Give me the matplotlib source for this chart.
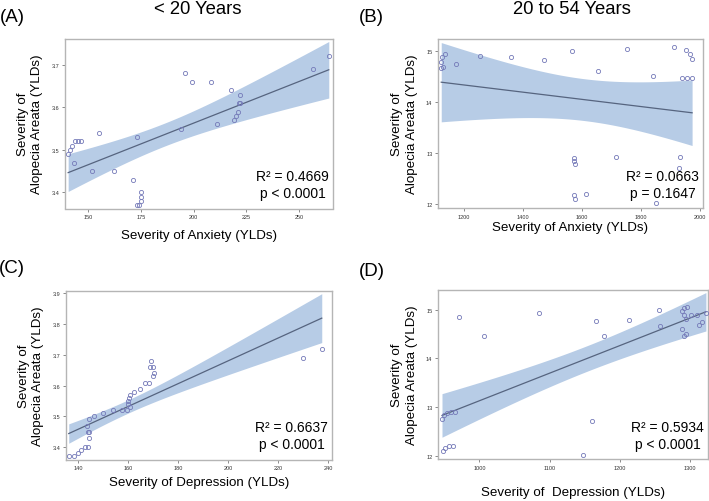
import numpy as np
import matplotlib
matplotlib.use('Agg')
import matplotlib.pyplot as plt

plt.rcParams['font.family'] = ['Liberation Sans', 'DejaVu Sans']

################################################################################
# data
a_x = [140.5, 141.3, 142.4, 143.7, 145.0, 146.5, 143.5, 152.0, 155.0, 162.0,
       171.0, 173.0, 173.0, 174.0, 175.0, 175.0, 175.0, 194.0, 196.0, 199.0,
       208.0, 211.0, 217.5, 219.0, 220.0, 221.0, 221.5, 222.0, 222.0, 256.6, 264.0]
a_y = [3.49, 3.50, 3.51, 3.52, 3.52, 3.52, 3.47, 3.45, 3.54, 3.45,
       3.43, 3.53, 3.37, 3.37, 3.38, 3.39, 3.40, 3.55, 3.68, 3.66,
       3.66, 3.56, 3.64, 3.57, 3.58, 3.59, 3.61, 3.61, 3.63, 3.69, 3.72]

b_x = [1123, 1127, 1137, 1123, 1130, 1173, 1254, 1361, 1473,
       1567, 1752, 1656, 1843, 1911, 1952, 1966, 1974, 1940, 1956, 1972,
       1572, 1573, 1578, 1715, 1932, 1930, 1572, 1577, 1614, 1850]
b_y = [14.79, 14.88, 14.94, 14.66, 14.68, 14.75, 14.90, 14.88, 14.82,
       14.99, 15.03, 14.61, 14.51, 15.07, 15.02, 14.94, 14.84, 14.47, 14.47, 14.47,
       12.91, 12.85, 12.78, 12.92, 12.92, 12.72, 12.18, 12.10, 12.21, 12.03]

c_x = [136.3, 138.3, 139.9, 141.3, 142.9, 144.0, 144.4, 143.9, 144.4, 143.6,
       144.4, 146.5, 150.0, 154.0, 157.7, 159.5, 160.0, 160.0, 160.2, 160.6,
       160.7, 162.5, 164.6, 166.7, 168.5, 169.1, 168.9, 169.9, 170.2, 169.9,
       229.8, 237.5]
c_y = [3.371, 3.37, 3.38, 3.39, 3.40, 3.40, 3.43, 3.45, 3.45, 3.47,
       3.49, 3.50, 3.51, 3.52, 3.52, 3.52, 3.54, 3.55, 3.56, 3.53,
       3.57, 3.58, 3.59, 3.61, 3.61, 3.68, 3.66, 3.66, 3.64, 3.63,
       3.69, 3.72]

d_x = [946.7, 949.0, 953.8, 959.5, 965.7, 947.6, 951.4, 956.2, 961.9, 970.5,
       1007.0, 1085.7, 1165.7, 1160.0, 1147.6, 1177.6, 1214.0, 1256.0, 1257.0,
       1289.5, 1289.5, 1292.0, 1295.7, 1292.0, 1294.3, 1294.3, 1292.0, 1302.0,
       1311.0, 1313.0, 1318.0, 1323.0]
d_y = [12.76, 12.85, 12.89, 12.91, 12.91, 12.11, 12.16, 12.21, 12.21, 14.84,
       14.45, 14.93, 14.77, 12.72, 12.03, 14.45, 14.79, 15.00, 14.66,
       14.60, 14.97, 15.03, 15.06, 14.88, 14.81, 14.50, 14.45, 14.88,
       14.89, 14.69, 14.75, 14.93]

stats = ['R\u00b2 = 0.4669\np < 0.0001', 'R\u00b2 = 0.0663\np = 0.1647',
         'R\u00b2 = 0.6637\np < 0.0001', 'R\u00b2 = 0.5934\np < 0.0001']
letters = ['(A)', '(B)', '(C)', '(D)']
titles = ['< 20 Years', '20 to 54 Years', '', '']
xlabels = ['Severity of Anxiety (YLDs)', 'Severity of Anxiety (YLDs)',
           'Severity of Depression (YLDs)', 'Severity of  Depression (YLDs)']

BAND = '#b7cce6'
LINE = '#56647f'
MARK = '#7479b8'


def fit_band(x, y):
    x = np.asarray(x, float)
    y = np.asarray(y, float)
    n = len(x)
    b, a = np.polyfit(x, y, 1)
    res = y - (a + b*x)
    s = np.sqrt(np.sum(res**2)/(n-2))
    xx = np.linspace(x.min(), x.max(), 200)
    yy = a + b*xx
    sxx = np.sum((x - x.mean())**2)
    se = s*np.sqrt(1.0/n + (xx - x.mean())**2/sxx)
    t = 2.04
    return xx, yy, yy - t*se, yy + t*se


def panel(ax, x, y, txt, xlim, ylim, xticks, yticks, xlab, xpad=4):
    xx, yy, lo, hi = fit_band(x, y)
    ax.fill_between(xx, lo, hi, color=BAND, lw=0, zorder=1)
    ax.plot(xx, yy, color=LINE, lw=0.9, zorder=2)
    ax.plot(x, y, 'o', ms=3.0, mfc='none', mec=MARK, mew=0.6, zorder=3)
    ax.set_xlim(*xlim)
    ax.set_ylim(*ylim)
    ax.set_xticks(xticks)
    ax.set_yticks(yticks)
    ax.tick_params(labelsize=4, length=2, width=0.6, color='#777777',
                   labelcolor='#333333', pad=2)
    for sp in ax.spines.values():
        sp.set_color('#b5b5b5')
        sp.set_linewidth(1.0)
    ax.text(0.985, 0.05, txt, transform=ax.transAxes, ha='right', va='bottom',
            fontsize=10, multialignment='center', linespacing=1.25)
    ax.set_xlabel(xlab, fontsize=9.6, labelpad=xpad)
    ax.set_ylabel('Severity of\nAlopecia Areata (YLDs)', fontsize=9.6,
                  linespacing=1.3, labelpad=6)


################################################################################
fig = plt.figure(figsize=(7.09, 5.02), dpi=100)
W, H = 709.0, 502.0

def add_ax(l, t, r, b):
    return fig.add_axes([l/W, 1 - b/H, (r - l)/W, (b - t)/H])

axA = add_ax(65, 39.5, 333, 209.5)
axB = add_ax(438, 39.5, 703, 209)
axC = add_ax(66, 291.5, 332, 460.5)
axD = add_ax(438, 291, 708, 460)

panel(axA, a_x, a_y, stats[0], (139, 266), (3.362, 3.762),
      [150, 175, 200, 225, 250], [3.4, 3.5, 3.6, 3.7], xlabels[0], xpad=7.5)
panel(axB, b_x, b_y, stats[1], (1112, 2011), (11.93, 15.24),
      [1200, 1400, 1600, 1800, 2000], [12, 13, 14, 15], xlabels[1], xpad=2)
panel(axC, c_x, c_y, stats[2], (135.2, 241.6), (3.36, 3.909),
      [140, 160, 180, 200, 220, 240], [3.4, 3.5, 3.6, 3.7, 3.8, 3.9], xlabels[2])
# x-label of D sits lower in the reference
panel(axD, d_x, d_y, stats[3], (941, 1326), (11.94, 15.40),
      [1000, 1100, 1200, 1300], [12, 13, 14, 15], xlabels[3], xpad=12)

fig.text(12/W, 1 - 18/H, letters[0], fontsize=13.5, ha='center', va='center')
fig.text(371/W, 1 - 17/H, letters[1], fontsize=13.5, ha='center', va='center')
fig.text(12/W, 1 - 269/H, letters[2], fontsize=13.5, ha='center', va='center')
fig.text(372/W, 1 - 272/H, letters[3], fontsize=13.5, ha='center', va='center')
fig.text(198/W, 1 - 10/H, titles[0], fontsize=13.3, ha='center', va='center')
fig.text(572/W, 1 - 10/H, titles[1], fontsize=13.3, ha='center', va='center')

fig.savefig('out.png', dpi=100)
